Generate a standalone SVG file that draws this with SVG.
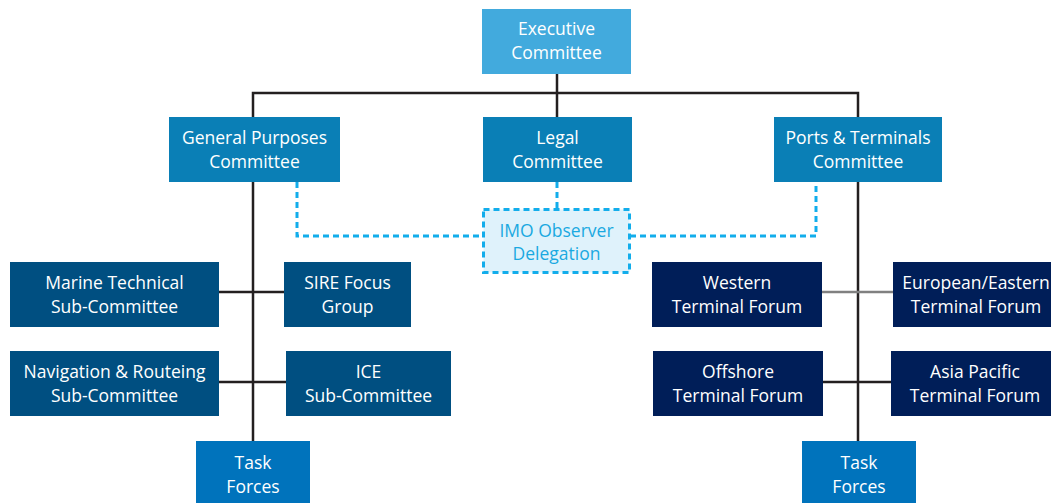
<svg xmlns="http://www.w3.org/2000/svg" width="1051" height="503" viewBox="0 0 1051 503">
<style>
text{font-family:"Open Sans","Noto Sans","Liberation Sans",sans-serif;font-size:17.5px;fill:#fff;text-anchor:middle}
.exec{fill:#42aadd}
.com{fill:#0a7fb6}
.sub{fill:#004f81}
.ter{fill:#001e58}
.task{fill:#0073bc}
.ln{stroke:#231f20;stroke-width:2.5;fill:none}
.gr{stroke:#808080;stroke-width:2.5;fill:none}
.dash{stroke:#12adeb;stroke-width:3;fill:none;stroke-dasharray:6 4}
.imo text{fill:#1aa9e1}
</style>
<g id="connectors">
<path class="ln" d="M557,74V117M253,117V93H858V117M253,182V441M858,182V441M219,292H284M219,382H286M823,382H891"/>
<path class="gr" d="M822,292H893"/>
<path class="dash" d="M297,182V236H482M557,182V208M630,236H816V182"/>
</g>
<g id="executive"><rect class="exec" x="482" y="9" width="149" height="65"/><text x="556.5" y="35">Executive</text><text x="556.5" y="59">Committee</text></g>
<g id="general"><rect class="com" x="169" y="117" width="171" height="65"/><text x="254.5" y="144">General Purposes</text><text x="254.5" y="168">Committee</text></g>
<g id="legal"><rect class="com" x="483" y="117" width="149" height="65"/><text x="557.5" y="144">Legal</text><text x="557.5" y="168">Committee</text></g>
<g id="ports"><rect class="com" x="774" y="117" width="168" height="65"/><text x="858" y="144">Ports &amp; Terminals</text><text x="858" y="168">Committee</text></g>
<g id="imo" class="imo"><rect x="483.5" y="209.5" width="146" height="63" class="dash" style="fill:#dff2fb"/><text x="556.5" y="237">IMO Observer</text><text x="556.5" y="260">Delegation</text></g>
<g id="marine"><rect class="sub" x="10" y="262" width="209" height="65"/><text x="114.5" y="289">Marine Technical</text><text x="114.5" y="313">Sub-Committee</text></g>
<g id="sire"><rect class="sub" x="284" y="262" width="127" height="65"/><text x="347.5" y="289">SIRE Focus</text><text x="347.5" y="313">Group</text></g>
<g id="navigation"><rect class="sub" x="10" y="351" width="209" height="65"/><text x="114.5" y="378">Navigation &amp; Routeing</text><text x="114.5" y="402">Sub-Committee</text></g>
<g id="ice"><rect class="sub" x="286" y="351" width="165" height="65"/><text x="368.5" y="378">ICE</text><text x="368.5" y="402">Sub-Committee</text></g>
<g id="task-left"><rect class="task" x="196" y="441" width="114" height="62"/><text x="253" y="469">Task</text><text x="253" y="493">Forces</text></g>
<g id="western"><rect class="ter" x="652" y="262" width="170" height="65"/><text x="737" y="289">Western</text><text x="737" y="313">Terminal Forum</text></g>
<g id="european"><rect class="ter" x="893" y="262" width="158" height="65"/><text x="976" y="289">European/Eastern</text><text x="976" y="313">Terminal Forum</text></g>
<g id="offshore"><rect class="ter" x="653" y="351" width="170" height="65"/><text x="738" y="378">Offshore</text><text x="738" y="402">Terminal Forum</text></g>
<g id="asia"><rect class="ter" x="891" y="351" width="160" height="65"/><text x="975" y="378">Asia Pacific</text><text x="975" y="402">Terminal Forum</text></g>
<g id="task-right"><rect class="task" x="802" y="441" width="114" height="62"/><text x="859" y="469">Task</text><text x="859" y="493">Forces</text></g>
</svg>
